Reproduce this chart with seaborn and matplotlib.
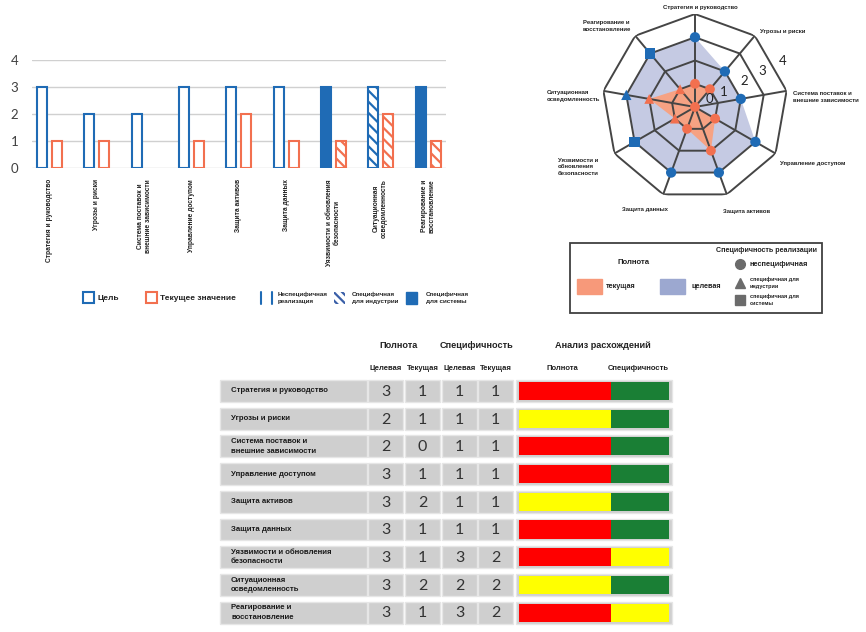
import numpy as np
import pandas as pd
import matplotlib.pyplot as plt
import seaborn as sns
from matplotlib.patches import Rectangle

sns.set_style("white")
plt.rcParams['font.family'] = ['Liberation Sans', 'DejaVu Sans']
plt.rcParams['hatch.linewidth'] = 1.6

# данные
bar_labels = ['Стратегия и руководство', 'Угрозы и риски', 'Система поставок и\nвнешние зависимости',
              'Управление доступом', 'Защита активов', 'Защита данных',
              'Уязвимости и обновления\nбезопасности', 'Ситуационная\nосведомленность',
              'Реагирование и\nвосстановление']
target = [3, 2, 2, 3, 3, 3, 3, 3, 3]
current = [1, 1, 0, 1, 2, 1, 1, 2, 1]
spec_target = [1, 1, 1, 1, 1, 1, 3, 2, 3]
spec_current = [1, 1, 1, 1, 1, 1, 2, 2, 2]

radar_labels = ['Стратегия и руководство', 'Угрозы и риски', 'Система поставок и\nвнешние зависимости',
                'Управление доступом', 'Защита активов', 'Защита данных',
                'Уязвимости и\nобновления\nбезопасности', 'Ситуационная\nосведомленность',
                'Реагирование и\nвосстановление']
radar_ticks = ['0', '1', '2', '3', '4']

table_labels = ['Стратегия и руководство', 'Угрозы и риски', 'Система поставок и\nвнешние зависимости',
                'Управление доступом', 'Защита активов', 'Защита данных',
                'Уязвимости и обновления\nбезопасности', 'Ситуационная\nосведомленность',
                'Реагирование и\nвосстановление']
gap_full = ['red', 'yellow', 'red', 'red', 'yellow', 'red', 'red', 'yellow', 'red']
gap_spec = ['green', 'green', 'green', 'green', 'green', 'green', 'yellow', 'green', 'yellow']

BLUE = '#1f6bb5'
ORANGE = '#f2704f'
GAPC = {'red': '#ff0000', 'yellow': '#ffff00', 'green': '#1a7f35'}
TXT = '#222222'

W, H = 866, 632
fig = plt.figure(figsize=(W / 100, H / 100), dpi=100)


def rect(x0, y0, x1, y1):
    return [x0 / W, 1 - y1 / H, (x1 - x0) / W, (y1 - y0) / H]


# ---- столбчатая диаграмма
ax = fig.add_axes(rect(32, 60, 446, 168))
df = pd.DataFrame({'cat': bar_labels * 2,
                   'val': target + current,
                   'series': ['Цель'] * 9 + ['Текущее значение'] * 9})
sns.barplot(data=df, x='cat', y='val', hue='series', hue_order=['Цель', 'Текущее значение'],
            palette=[BLUE, ORANGE], saturation=1, width=0.634, gap=0.334, legend=False, ax=ax)

for p in ax.patches:
    cx = p.get_x() + p.get_width() / 2
    i = int(round(cx))
    is_target = cx < i
    col = BLUE if is_target else ORANGE
    sp = spec_target[i] if is_target else spec_current[i]
    if p.get_height() == 0:
        p.set_visible(False)
        continue
    p.set_edgecolor(col)
    p.set_linewidth(1.5)
    if hasattr(p, 'set_hatchcolor'):
        p.set_hatchcolor(col)
    if sp == 1:
        p.set_facecolor('white')
    elif sp == 2:
        p.set_facecolor('white')
        p.set_hatch('\\\\\\')
    else:
        p.set_facecolor(col)

ax.set_xlim(-0.37, 8.38)
ax.set_ylim(0, 4)
ax.set_yticks([0, 1, 2, 3, 4])
ax.yaxis.grid(True, color='#d0d0d0', lw=1)
ax.set_axisbelow(True)
sns.despine(ax=ax, left=True, bottom=True)
ax.set_xlabel('')
ax.set_ylabel('')
ax.tick_params(axis='y', length=0, pad=10, labelsize=9.5, labelcolor='#404040')
ax.tick_params(axis='x', length=0, pad=8)
for t in ax.get_yticklabels():
    t.set_family('Lato')
ax.set_xticks(range(9))
ax.set_xticklabels(bar_labels, rotation=90, fontsize=4.8, fontweight='bold', color=TXT, va='top')

# ---- лепестковая диаграмма
theta = np.linspace(0, 2 * np.pi, 9, endpoint=False)
closed = np.append(theta, theta[0])
rax = fig.add_axes(rect(602, 14, 788, 200), projection='polar')
rax.set_theta_offset(np.pi / 2)
rax.set_theta_direction(-1)
rax.fill(closed, target + target[:1], color='#c5cae3', lw=0, zorder=1)
rax.fill(closed, current + current[:1], color='#f6a283', lw=0, zorder=1.5)
for r in range(1, 5):
    rax.plot(closed, [r] * 10, color='#454545', lw=1.4, zorder=2)
for a in theta:
    rax.plot([a, a], [0, 4], color='#454545', lw=1.4, zorder=2)

mk = {1: 'o', 2: '^', 3: 's'}
sns.scatterplot(x=theta, y=target, style=spec_target, markers=mk, color=BLUE, s=55,
                linewidth=0, legend=False, ax=rax, zorder=3)
sns.scatterplot(x=theta, y=current, style=spec_current, markers=mk, color=ORANGE, s=50,
                linewidth=0, legend=False, ax=rax, zorder=3)
rax.set_ylim(0, 4)
rax.grid(False)
rax.set_xticks([])
rax.set_yticks([])
rax.spines['polar'].set_visible(False)
rax.set_xlabel('')
rax.set_ylabel('')
for lab, rr in zip(radar_ticks, [0.7, 1.4, 2.4, 3.3, 4.25]):
    rax.text(np.radians(62), rr, lab, fontsize=9.5, family='Lato', color=TXT,
             ha='center', va='center', zorder=4)

# ---- оформление: подписи, легенды
deco = fig.add_axes([0, 0, 1, 1])
deco.set_xlim(0, W)
deco.set_ylim(H, 0)
deco.axis('off')
deco.patch.set_visible(False)

rl_pos = [(700, 8, 'center'), (760, 31, 'left'), (793, 97, 'left'), (780, 164, 'left'),
          (747, 212, 'center'), (645, 210, 'center'), (558, 167, 'left'), (547, 96, 'left'),
          (583, 26, 'left')]
for lab, (x, y, ha) in zip(radar_labels, rl_pos):
    deco.text(x, y, lab, fontsize=4.3, fontweight='bold', ha=ha, va='center', color=TXT,
              linespacing=1.35)

# легенда радара
deco.add_patch(Rectangle((570, 243), 252, 70, fill=False, edgecolor='#404040', lw=1.3))
deco.text(766, 250, 'Специфичность реализации', fontsize=5.1, fontweight='bold', ha='center', va='center', color=TXT)
deco.text(634, 263, 'Полнота', fontsize=5.6, fontweight='bold', ha='center', va='center', color=TXT)
deco.add_patch(Rectangle((577, 279), 25, 15, color='#f7997a'))
deco.text(606, 287, 'текущая', fontsize=5.2, fontweight='bold', va='center', color=TXT)
deco.add_patch(Rectangle((660, 279), 25, 15, color='#9ca8d0'))
deco.text(691, 287, 'целевая', fontsize=5.2, fontweight='bold', va='center', color=TXT)
for (y, m, t, fs) in [(264, 'o', 'неспецифичная', 5.3), (283, '^', 'специфичная для\nиндустрии', 4),
                      (300, 's', 'специфичная для\nсистемы', 4)]:
    deco.plot([740], [y], marker=m, color='#6b6b6b', ms=7, lw=0)
    deco.text(750, y, t, fontsize=fs, fontweight='bold', va='center', linespacing=1.5, color=TXT)

# легенда столбцов
deco.add_patch(Rectangle((83, 292), 11, 11, fill=False, edgecolor=BLUE, lw=1.5))
deco.text(98, 298, 'Цель', fontsize=6, fontweight='bold', va='center', color=TXT)
deco.add_patch(Rectangle((146, 292), 11, 11, fill=False, edgecolor=ORANGE, lw=1.5))
deco.text(160, 298, 'Текущее значение', fontsize=6, fontweight='bold', va='center', color=TXT)
deco.plot([261, 261], [292, 304], color=BLUE, lw=1.5)
deco.plot([272, 272], [292, 304], color=BLUE, lw=1.5)
deco.text(278, 298, 'Неспецифичная\nреализация', fontsize=4.5, fontweight='bold', va='center', linespacing=1.6, color=TXT)
hp = Rectangle((334, 292), 11, 12, facecolor='white', edgecolor='white', hatch='\\\\\\\\', lw=0)
if hasattr(hp, 'set_hatchcolor'):
    hp.set_hatchcolor('#3a5fa8')
else:
    hp.set_edgecolor('#3a5fa8')
deco.add_patch(hp)
deco.text(352, 298, 'Специфичная\nдля индустрии', fontsize=4.5, fontweight='bold', va='center', linespacing=1.6, color=TXT)
deco.add_patch(Rectangle((406, 292), 11, 12, color=BLUE))
deco.text(426, 298, 'Специфичная\nдля системы', fontsize=4.5, fontweight='bold', va='center', linespacing=1.6, color=TXT)

# ---- таблица
tab = fig.add_axes(rect(215, 330, 675, 630))
tab.set_xlim(215, 675)
tab.set_ylim(8.628, -2.202)
tab.axis('off')
rows = np.arange(9)
GREY = '#cfcfcf'
tab.barh(rows, 147, left=220, height=0.79, color=GREY, edgecolor='#e6e6e6', lw=1)
for y, lab in zip(rows, table_labels):
    tab.text(231, y, lab, fontsize=5.6, fontweight='bold', va='center', color='#1a1a1a', linespacing=1.45)

cols = [target, current, spec_target, spec_current]
col_left = [368, 405, 442, 478]
for vals, x0 in zip(cols, col_left):
    tab.barh(rows, 35, left=x0, height=0.79, color=GREY, edgecolor='#e6e6e6', lw=1)
    for y, v in zip(rows, vals):
        tab.text(x0 + 17.5, y + 0.03, str(v), fontsize=11.5, family='Lato', color='#333333',
                 ha='center', va='center')

tab.barh(rows, 156, left=516, height=0.79, color=GREY, edgecolor='#e6e6e6', lw=1)
tab.barh(rows, 92, left=519, height=0.65, color=[GAPC[c] for c in gap_full], lw=0)
tab.barh(rows, 58, left=611, height=0.65, color=[GAPC[c] for c in gap_spec], lw=0)

for x, t in [(398, 'Полнота'), (477, 'Специфичность'), (603, 'Анализ расхождений')]:
    tab.text(x, -1.66, t, fontsize=6.6, fontweight='bold', ha='center', va='center', color=TXT)
for x, t in [(385.5, 'Целевая'), (422.5, 'Текущая'), (459.5, 'Целевая'), (495.5, 'Текущая'),
             (562, 'Полнота'), (638, 'Специфичность')]:
    tab.text(x, -0.83, t, fontsize=5.5, fontweight='bold', ha='center', va='center', color=TXT)

fig.savefig('out.png', dpi=100)
